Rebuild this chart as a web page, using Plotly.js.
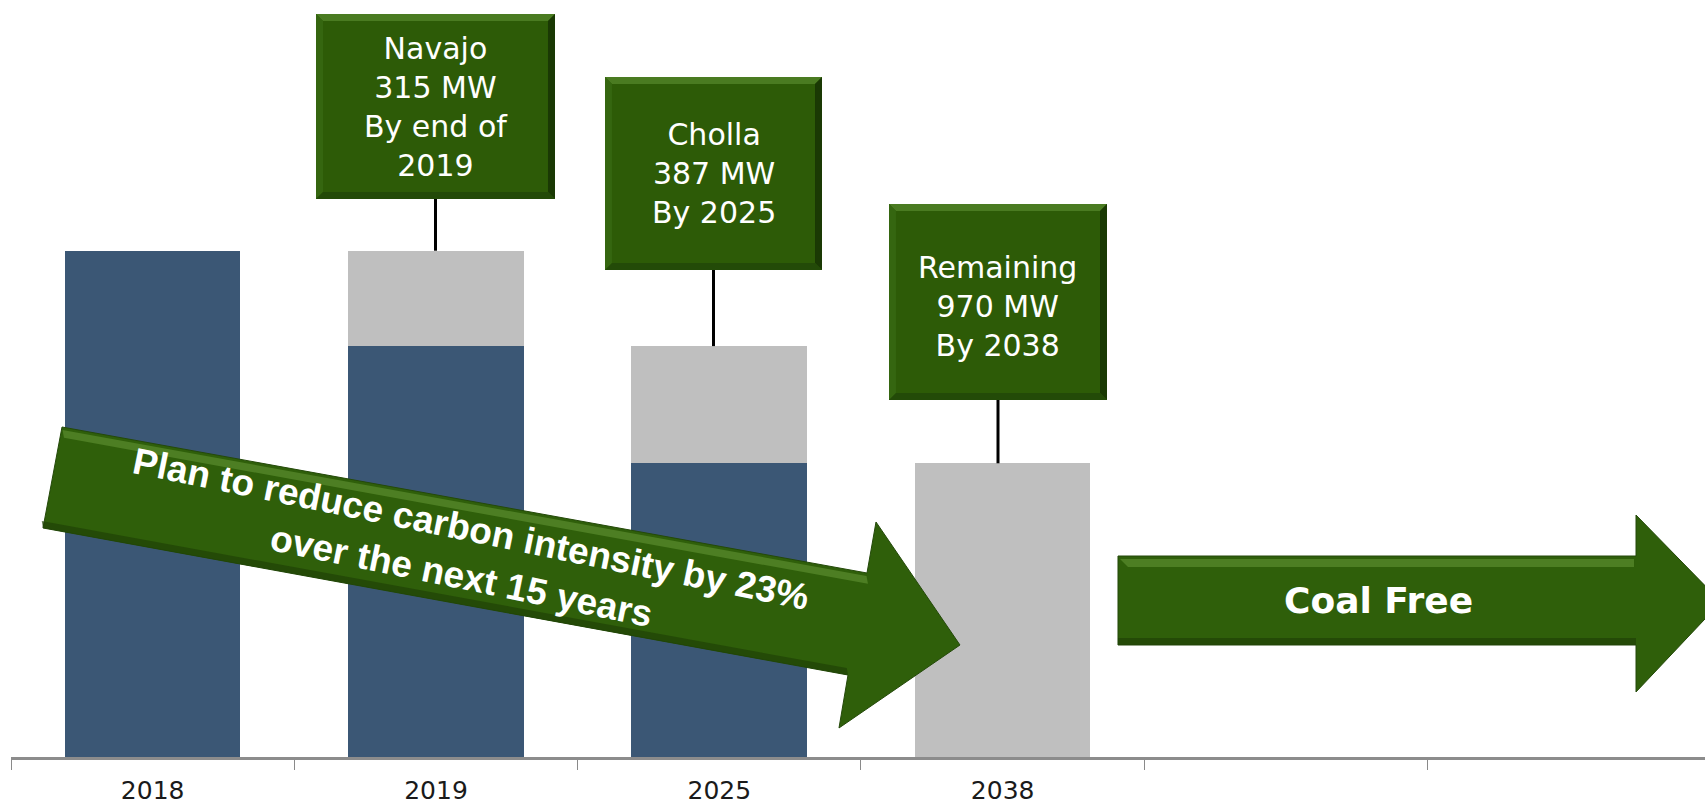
<!DOCTYPE html>
<html><head><meta charset="utf-8">
<script src="https://cdn.plot.ly/plotly-3.0.1.min.js"></script>
<style>html,body{margin:0;padding:0;background:#fff;}#chart{width:1705px;height:806px;}</style>
</head><body><div id="chart"></div>
<script>
// ---- data ----
const categories = ['2018', '2019', '2025', '2038', 'blank1', 'blank2'];
const tickLabels = ['2018', '2019', '2025', '2038', '', ''];
const barYears = ['2018', '2019', '2025', '2038'];
const remainingMW = [1672, 1357, 970, 0];
const retiredMW = [0, 315, 387, 970];
const boxTexts = ['Navajo<br>315 MW<br>By end of<br>2019', 'Cholla<br>387 MW<br>By 2025', 'Remaining<br>970 MW<br>By 2038'];
const boxYears = ['2019', '2025', '2038'];
const arrowText = 'Plan to reduce carbon intensity by 23%<br>over the next 15 years';
const coalFreeText = 'Coal Free';

// ---- layout geometry (pixels) ----
const W = 1705, H = 806;
const M = {l: 11, r: 0, t: 0, b: 49};
const PW = W - M.l - M.r, PH = H - M.t - M.b;
const px = x => (x - M.l) / PW;
const py = y => (H - M.b - y) / PH;
const pathOf = pts => 'M ' + pts.map(p => px(p[0]).toFixed(5) + ' ' + py(p[1]).toFixed(5)).join(' L ') + ' Z';

const boxRects = [[316, 14, 555, 199], [605, 77, 822, 270], [889, 204, 1107, 400]];
const boxTextY = [107, 173, 306];

const shapes = [];
const annotations = [];

const GREEN = '#2d5b07';
// bevelled boxes
boxRects.forEach((r, i) => {
  const [x0, y0, x1, y1] = r, b = 7;
  shapes.push({type: 'path', xref: 'paper', yref: 'paper', path: pathOf([[x0, y0], [x1, y0], [x1, y1], [x0, y1]]), fillcolor: GREEN, line: {width: 0}, layer: 'above'});
  shapes.push({type: 'path', xref: 'paper', yref: 'paper', path: pathOf([[x0, y0], [x1, y0], [x1 - b, y0 + b], [x0 + b, y0 + b]]), fillcolor: '#4a7b21', line: {width: 0}, layer: 'above'});
  shapes.push({type: 'path', xref: 'paper', yref: 'paper', path: pathOf([[x0, y0], [x0 + b, y0 + b], [x0 + b, y1 - b], [x0, y1]]), fillcolor: '#356610', line: {width: 0}, layer: 'above'});
  shapes.push({type: 'path', xref: 'paper', yref: 'paper', path: pathOf([[x1, y0], [x1, y1], [x1 - b, y1 - b], [x1 - b, y0 + b]]), fillcolor: '#1a3904', line: {width: 0}, layer: 'above'});
  shapes.push({type: 'path', xref: 'paper', yref: 'paper', path: pathOf([[x0, y1], [x1, y1], [x1 - b, y1 - b], [x0 + b, y1 - b]]), fillcolor: '#234a08', line: {width: 0}, layer: 'above'});
  // connector to bar top
  const yi = barYears.indexOf(boxYears[i]);
  const xc = (x0 + x1) / 2;
  shapes.push({type: 'line', xref: 'paper', yref: 'y', x0: px(xc), x1: px(xc), y0: remainingMW[yi] + retiredMW[yi], y1: (H - M.b - y1) / PH * 2500, line: {color: '#000', width: 3}, layer: 'above'});
  annotations.push({xref: 'paper', yref: 'paper', x: px(xc), y: py(boxTextY[i]), text: boxTexts[i], showarrow: false,
    font: {family: 'DejaVu Sans, Verdana, sans-serif', size: 30, color: '#ffffff'}, align: 'center', xanchor: 'center', yanchor: 'middle'});
});

// diagonal arrow
const diag = [[62, 427], [867, 573], [876, 522], [960, 645], [839, 728], [848, 675], [43, 528]];
shapes.push({type: 'path', xref: 'paper', yref: 'paper', path: pathOf(diag), fillcolor: '#2f5f0a', line: {color: '#24490a', width: 1}, layer: 'above'});
const nrm = [0.179, 0.984];
const off = (p, d) => [p[0] + nrm[0] * d, p[1] + nrm[1] * d];
shapes.push({type: 'path', xref: 'paper', yref: 'paper', path: pathOf([off([62, 427], 3), off([866, 573], 3), off([866, 573], 11), off([62, 427], 11)]), fillcolor: '#5a8c2d', opacity: 0.7, line: {width: 0}, layer: 'above'});
shapes.push({type: 'path', xref: 'paper', yref: 'paper', path: pathOf([off([43, 528], -7), off([848, 675], -7), [848, 675], [43, 528]]), fillcolor: '#1f4205', opacity: 0.7, line: {width: 0}, layer: 'above'});
annotations.push({xref: 'paper', yref: 'paper', x: px(466), y: py(552), text: '<b>' + arrowText + '</b>', showarrow: false, textangle: 11.5,
  font: {family: 'Liberation Sans, Arial, sans-serif', size: 37, color: '#ffffff'}, align: 'center', xanchor: 'center', yanchor: 'middle'});

// coal free arrow
const cf = [[1118, 556], [1636, 556], [1636, 515], [1721, 602], [1636, 692], [1636, 645], [1118, 645]];
shapes.push({type: 'path', xref: 'paper', yref: 'paper', path: pathOf(cf), fillcolor: '#2f5f0a', line: {color: '#24490a', width: 1}, layer: 'above'});
shapes.push({type: 'path', xref: 'paper', yref: 'paper', path: pathOf([[1120, 559], [1634, 559], [1634, 567], [1128, 567]]), fillcolor: '#5a8c2d', opacity: 0.7, line: {width: 0}, layer: 'above'});
shapes.push({type: 'path', xref: 'paper', yref: 'paper', path: pathOf([[1118, 638], [1636, 638], [1636, 645], [1118, 645]]), fillcolor: '#1f4205', opacity: 0.7, line: {width: 0}, layer: 'above'});
annotations.push({xref: 'paper', yref: 'paper', x: px(1378), y: py(600), text: '<b>' + coalFreeText + '</b>', showarrow: false,
  font: {family: 'DejaVu Sans, Verdana, sans-serif', size: 36, color: '#ffffff'}, xanchor: 'center', yanchor: 'middle'});

const traces = [
  {type: 'bar', x: barYears, y: remainingMW, name: 'Remaining', marker: {color: '#3b5775'}, hoverinfo: 'skip'},
  {type: 'bar', x: barYears, y: retiredMW, name: 'Retired', marker: {color: '#bfbfbf'}, hoverinfo: 'skip'}
];

const layout = {
  width: W, height: H,
  margin: M,
  paper_bgcolor: '#ffffff', plot_bgcolor: '#ffffff',
  barmode: 'stack', bargap: 0.38,
  showlegend: false,
  xaxis: {
    type: 'category', categoryorder: 'array', categoryarray: categories,
    tickmode: 'array', tickvals: categories, ticktext: tickLabels,
    tickson: 'boundaries', ticks: 'outside', ticklen: 10, tickwidth: 1, tickcolor: '#8a8a8a',
    showline: true, linecolor: '#8c8c8c', linewidth: 3,
    showgrid: false, zeroline: false,
    range: [-0.5, 5.479],
    ticklabelstandoff: 9,
    tickfont: {family: 'DejaVu Sans, Verdana, sans-serif', size: 25, color: '#1a1a1a'}
  },
  yaxis: {range: [0, 2500], visible: false, showgrid: false, zeroline: false},
  shapes: shapes,
  annotations: annotations
};

Plotly.newPlot('chart', traces, layout, {displayModeBar: false, staticPlot: true});
</script>
</body></html>
